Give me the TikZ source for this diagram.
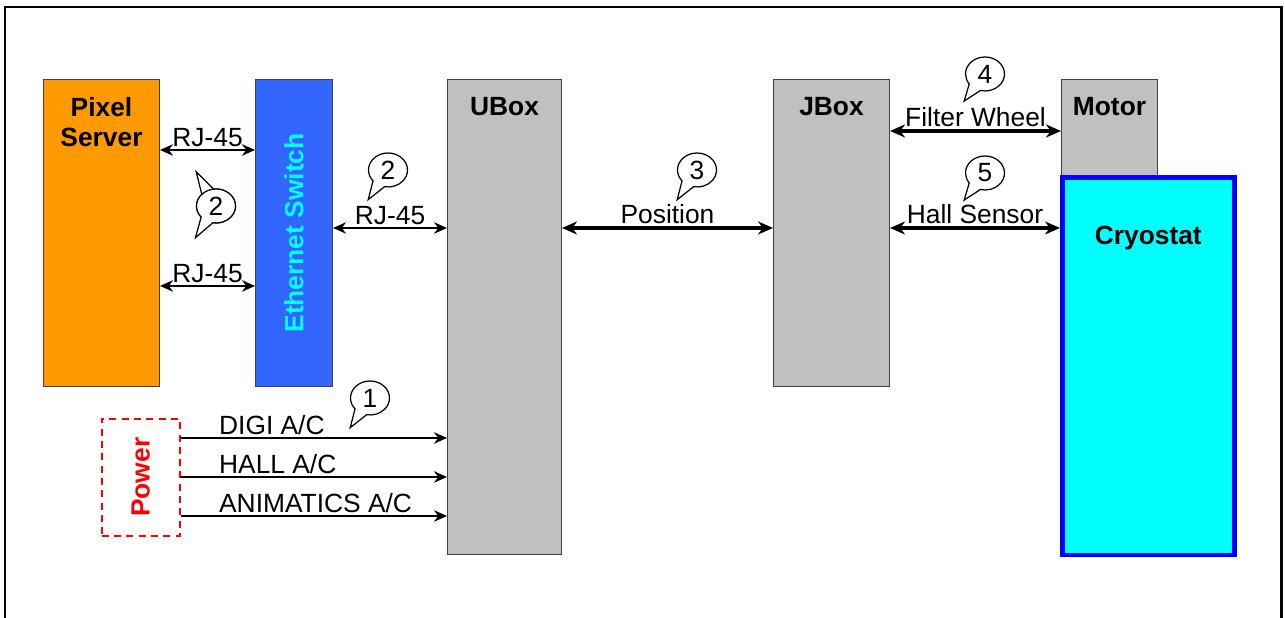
\documentclass[tikz,border=0pt]{standalone}
\usepackage{fontspec}
\setmainfont{Liberation Sans}
\usetikzlibrary{arrows.meta,positioning,calc,shapes.callouts}
\definecolor{pixorange}{RGB}{255,153,0}
\definecolor{ethblue}{RGB}{51,102,255}
\definecolor{boxgray}{RGB}{192,192,192}
\definecolor{cryocyan}{RGB}{0,255,255}
\definecolor{cryoblue}{RGB}{0,0,255}
\definecolor{pwrred}{RGB}{255,0,0}
\tikzset{
  unit/.style={draw=black!75, line width=0.6pt, anchor=north west, inner sep=0pt},
  ttl/.style={font=\fontsize{15}{17}\selectfont\bfseries, align=center, anchor=north, inner sep=0pt},
  lbl/.style={font=\fontsize{15}{17}\selectfont, inner sep=1.5pt},
  thinarr/.style={{Stealth[length=2.6mm,width=2.3mm]}-{Stealth[length=2.6mm,width=2.3mm]}, line width=1.1pt},
  thickarr/.style={{Stealth[length=3mm,width=2.6mm]}-{Stealth[length=3mm,width=2.6mm]}, line width=2.2pt},
  pwrarr/.style={-{Stealth[length=2.6mm,width=2.3mm]}, line width=1.1pt},
  tag/.style={ellipse callout, draw, line width=0.7pt, fill=white, minimum width=0.78cm,
              minimum height=0.68cm, inner sep=0pt, font=\fontsize{15}{17}\selectfont,
              callout pointer arc=40, callout relative pointer={(-0.2cm,-0.3cm)}},
}

\begin{document}
\begin{tikzpicture}[x=0.02cm, y=-0.02cm]
  \useasboundingbox (0,0) rectangle (1285,618);
  % outer frame, open at the bottom
  \draw[line width=1.7pt] (5,618) -- (5,7) -- (1281,7) -- (1281,618);

  % units
  \node[unit, fill=pixorange, minimum width=2.32cm, minimum height=6.14cm] (pixsrv) at (43,79) {};
  \node[unit, fill=ethblue, minimum width=1.54cm, minimum height=6.14cm] (ethsw) at (255,79) {};
  \node[unit, fill=boxgray, minimum width=2.28cm, minimum height=9.5cm] (ubox) at (447,79) {};
  \node[unit, fill=boxgray, minimum width=2.32cm, minimum height=6.14cm] (jbox) at (773,79) {};
  \node[unit, fill=boxgray, minimum width=1.92cm, minimum height=1.92cm] (motor) at (1061,79) {};
  \node[unit, fill=cryocyan, draw=cryoblue, line width=2.6pt, minimum width=3.44cm, minimum height=7.56cm] (cryo) at (1060,175) {};
  \node[unit, draw=pwrred, line width=0.9pt, dash pattern=on 4pt off 3pt, minimum width=1.56cm, minimum height=2.34cm] (pwr) at (101,418) {};

  \node[ttl] (pixsrv-t) at ([yshift=-0.36cm]pixsrv.north) {Pixel\\Server};
  \node[ttl, anchor=center, rotate=90, text=cryocyan] (ethsw-t) at (ethsw.center) {Ethernet Switch};
  \node[ttl] (ubox-t) at ([yshift=-0.36cm]ubox.north) {UBox};
  \node[ttl] (jbox-t) at ([yshift=-0.36cm]jbox.north) {JBox};
  \node[ttl] (motor-t) at ([yshift=-0.36cm]motor.north) {Motor};
  \node[ttl] (cryo-t) at ([yshift=-1.02cm]cryo.north) {Cryostat};
  \node[ttl, anchor=center, rotate=90, text=pwrred] (pwr-t) at (pwr.center) {Power};

  % links
  \coordinate (rjA) at ([yshift=-1.42cm]pixsrv.north east);
  \coordinate (rjB) at ([yshift=-4.14cm]pixsrv.north east);
  \coordinate (rjC) at ([yshift=-2.98cm]ethsw.north east);
  \coordinate (posL) at ([yshift=-2.98cm]ubox.north east);
  \coordinate (fwL) at ([yshift=-1.04cm]jbox.north east);
  \coordinate (hallL) at ([yshift=-2.98cm]jbox.north east);
  \draw[thinarr] (rjA) -- (rjA -| ethsw.west) node[lbl, midway, above] {RJ-45};
  \draw[thinarr] (rjB) -- (rjB -| ethsw.west) node[lbl, midway, above] {RJ-45};
  \draw[thinarr] (rjC) -- (rjC -| ubox.west) node[lbl, midway, above] {RJ-45};
  \draw[thickarr] (posL) -- (posL -| jbox.west) node[lbl, midway, above] {Position};
  \draw[thickarr] (fwL) -- (fwL -| motor.west) node[lbl, midway, above] {Filter Wheel};
  \draw[thickarr] (hallL) -- (hallL -| cryo.west) node[lbl, midway, above] {Hall Sensor};

  % power feeds
  \coordinate (digi) at ([yshift=-0.4cm]pwr.north east);
  \coordinate (hall) at ([yshift=-1.18cm]pwr.north east);
  \coordinate (anim) at ([yshift=-1.96cm]pwr.north east);
  \draw[pwrarr] (digi) -- (digi -| ubox.west) node[lbl, pos=0, above right, xshift=0.7cm] {DIGI A/C};
  \draw[pwrarr] (hall) -- (hall -| ubox.west) node[lbl, pos=0, above right, xshift=0.7cm] {HALL A/C};
  \draw[pwrarr] (anim) -- (anim -| ubox.west) node[lbl, pos=0, above right, xshift=0.7cm] {ANIMATICS A/C};

  % numbered callouts
  \node[tag] (tag1) at (370,398) {1};
  \node[tag] (tag2) at (388,170) {2};
  \node[tag, callout relative pointer={(-0.22cm,0.38cm)}] (tag2b) at (216,206) {};
  \node[tag, callout relative pointer={(-0.22cm,-0.34cm)}] (tag2a) at (216,206) {2};
  \node[tag] (tag3) at (697,170) {3};
  \node[tag, callout relative pointer={(-0.2cm,-0.26cm)}] (tag4) at (985,74) {4};
  \node[tag, callout relative pointer={(-0.2cm,-0.26cm)}] (tag5) at (985,173) {5};
\end{tikzpicture}
\end{document}
